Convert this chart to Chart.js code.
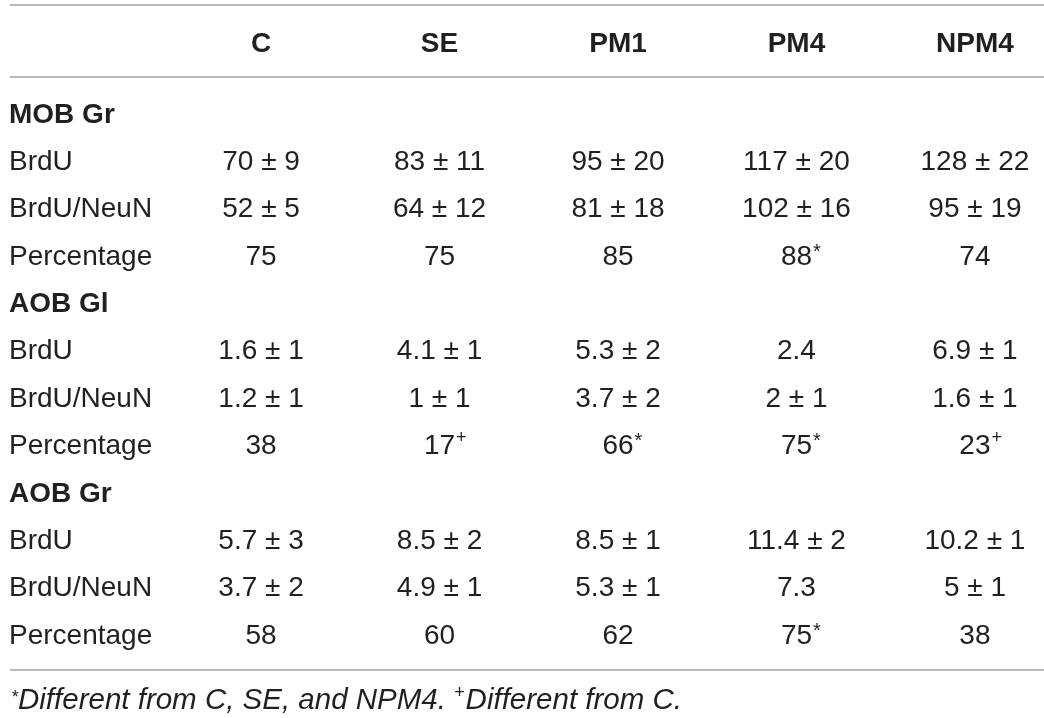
<!DOCTYPE html>
<html>
<head>
<meta charset="utf-8">
<script src="https://cdn.jsdelivr.net/npm/chart.js@4.4.1/dist/chart.umd.min.js"></script>
<style>
  html, body { margin: 0; padding: 0; background: #fff; }
  #wrap { width: 1044px; height: 718px; position: relative; }
</style>
</head>
<body>
<div id="wrap"><canvas id="tablaChart"></canvas></div>
<script>
// --- DATOS DE LA TABLA ---
const columnas = ["C", "SE", "PM1", "PM4", "NPM4"];
const filas = [
    "MOB Gr", "BrdU", "BrdU/NeuN", "Percentage",
    "AOB Gl", "BrdU", "BrdU/NeuN", "Percentage",
    "AOB Gr", "BrdU", "BrdU/NeuN", "Percentage"
];
const filasGrupo = [0, 4, 8];

const mobGrBrdU = ["70 ± 9", "83 ± 11", "95 ± 20", "117 ± 20", "128 ± 22"];
const mobGrNeuN = ["52 ± 5", "64 ± 12", "81 ± 18", "102 ± 16", "95 ± 19"];
const mobGrPct  = ["75", "75", "85", "88*", "74"];

const aobGlBrdU = ["1.6 ± 1", "4.1 ± 1", "5.3 ± 2", "2.4", "6.9 ± 1"];
const aobGlNeuN = ["1.2 ± 1", "1 ± 1", "3.7 ± 2", "2 ± 1", "1.6 ± 1"];
const aobGlPct  = ["38", "17+", "66*", "75*", "23+"];

const aobGrBrdU = ["5.7 ± 3", "8.5 ± 2", "8.5 ± 1", "11.4 ± 2", "10.2 ± 1"];
const aobGrNeuN = ["3.7 ± 2", "4.9 ± 1", "5.3 ± 1", "7.3", "5 ± 1"];
const aobGrPct  = ["58", "60", "62", "75*", "38"];

const celdasPorFila = [
    null, mobGrBrdU, mobGrNeuN, mobGrPct,
    null, aobGlBrdU, aobGlNeuN, aobGlPct,
    null, aobGrBrdU, aobGrNeuN, aobGrPct
];

const notaPie = [
    { t: "*", sup: true },
    { t: "Different from C, SE, and NPM4. " },
    { t: "+", sup: true },
    { t: "Different from C." }
];

// --- ESTILO ---
const FUENTE = "'Liberation Sans', Arial, Helvetica, sans-serif";
const COLOR_TEXTO = "#231f20";
const COLOR_LINEA = "#a3a3a3";

// puntos (invisibles) de cada celda, sacados de los arrays
const puntos = [];
celdasPorFila.forEach((fila, r) => {
    if (!fila) return;
    fila.forEach((texto, c) => puntos.push({ x: c, y: r, texto: texto }));
});

// dibuja el texto de cada celda en la posición que da la escala
const celdasPlugin = {
    id: "celdas",
    afterDatasetsDraw(chart) {
        const ctx = chart.ctx;
        const meta = chart.getDatasetMeta(0);
        ctx.save();
        ctx.fillStyle = COLOR_TEXTO;
        meta.data.forEach((el, i) => {
            const raw = puntos[i].texto;
            const m = raw.match(/^(.*?)([*+])$/);
            const principal = m ? m[1] : raw;
            ctx.font = "28px " + FUENTE;
            ctx.textAlign = "center";
            ctx.textBaseline = "middle";
            ctx.fillText(principal, el.x, el.y);
            if (m) {
                const w = ctx.measureText(principal).width;
                ctx.textAlign = "left";
                ctx.textBaseline = "alphabetic";
                const base = el.y + 7;
                if (m[2] === "*") {
                    ctx.font = "20px " + FUENTE;
                    ctx.fillText("*", el.x + w / 2 + 1, base - 6);
                } else {
                    ctx.font = "18px " + FUENTE;
                    ctx.fillText("+", el.x + w / 2 + 1, base - 10);
                }
            }
        });
        ctx.restore();
    },
    afterDraw(chart) {
        const ctx = chart.ctx;
        const area = chart.chartArea;
        ctx.save();
        // líneas horizontales de la tabla
        ctx.strokeStyle = COLOR_LINEA;
        ctx.lineWidth = 1.5;
        [5, area.top, area.bottom].forEach(y => {
            ctx.beginPath();
            ctx.moveTo(10, y);
            ctx.lineTo(chart.width, y);
            ctx.stroke();
        });
        // nota al pie
        let x = 11;
        const base = area.bottom + 39;
        ctx.fillStyle = COLOR_TEXTO;
        ctx.textAlign = "left";
        ctx.textBaseline = "alphabetic";
        notaPie.forEach(p => {
            if (p.sup) {
                ctx.font = "italic 18px " + FUENTE;
                const dy = p.t === "*" ? -6 : -11;
                ctx.fillText(p.t, x, base + dy);
                x += ctx.measureText(p.t).width + (p.t === "+" ? 1 : 0);
            } else {
                ctx.font = "italic 29.5px " + FUENTE;
                ctx.fillText(p.t, x, base);
                x += ctx.measureText(p.t).width;
            }
        });
        ctx.restore();
    }
};

const canvas = document.getElementById("tablaChart");
const ctx = canvas.getContext("2d");

const config = {
    type: "scatter",
    data: {
        datasets: [{
            data: puntos,
            pointRadius: 0,
            pointHoverRadius: 0,
            showLine: false
        }]
    },
    options: {
        responsive: true,
        maintainAspectRatio: false,
        animation: false,
        events: [],
        layout: { padding: { top: 5, left: 9, right: 0, bottom: 48 } },
        plugins: {
            legend: { display: false },
            tooltip: { enabled: false }
        },
        scales: {
            x: {
                type: "linear",
                position: "top",
                min: -0.2917,
                max: 4.387,
                afterBuildTicks: s => { s.ticks = columnas.map((_, i) => ({ value: i })); },
                afterFit: s => { s.height = 72; },
                ticks: {
                    autoSkip: false,
                    maxRotation: 0,
                    padding: 16,
                    color: COLOR_TEXTO,
                    font: { family: FUENTE, size: 28, weight: "bold" },
                    callback: v => columnas[v]
                },
                grid: { display: false, drawTicks: false },
                border: { display: false }
            },
            y: {
                type: "linear",
                reverse: true,
                min: -0.802,
                max: 11.72,
                afterBuildTicks: s => { s.ticks = filas.map((_, i) => ({ value: i })); },
                afterFit: s => { s.width = 200; },
                ticks: {
                    autoSkip: false,
                    crossAlign: "far",
                    color: COLOR_TEXTO,
                    font: c => ({
                        family: FUENTE,
                        size: 28,
                        weight: filasGrupo.includes(c.index) ? "bold" : "normal"
                    }),
                    callback: v => filas[v]
                },
                grid: { display: false, drawTicks: false },
                border: { display: false }
            }
        }
    },
    plugins: [celdasPlugin]
};

canvas._chartInstance = new Chart(ctx, config);
</script>
</body>
</html>
